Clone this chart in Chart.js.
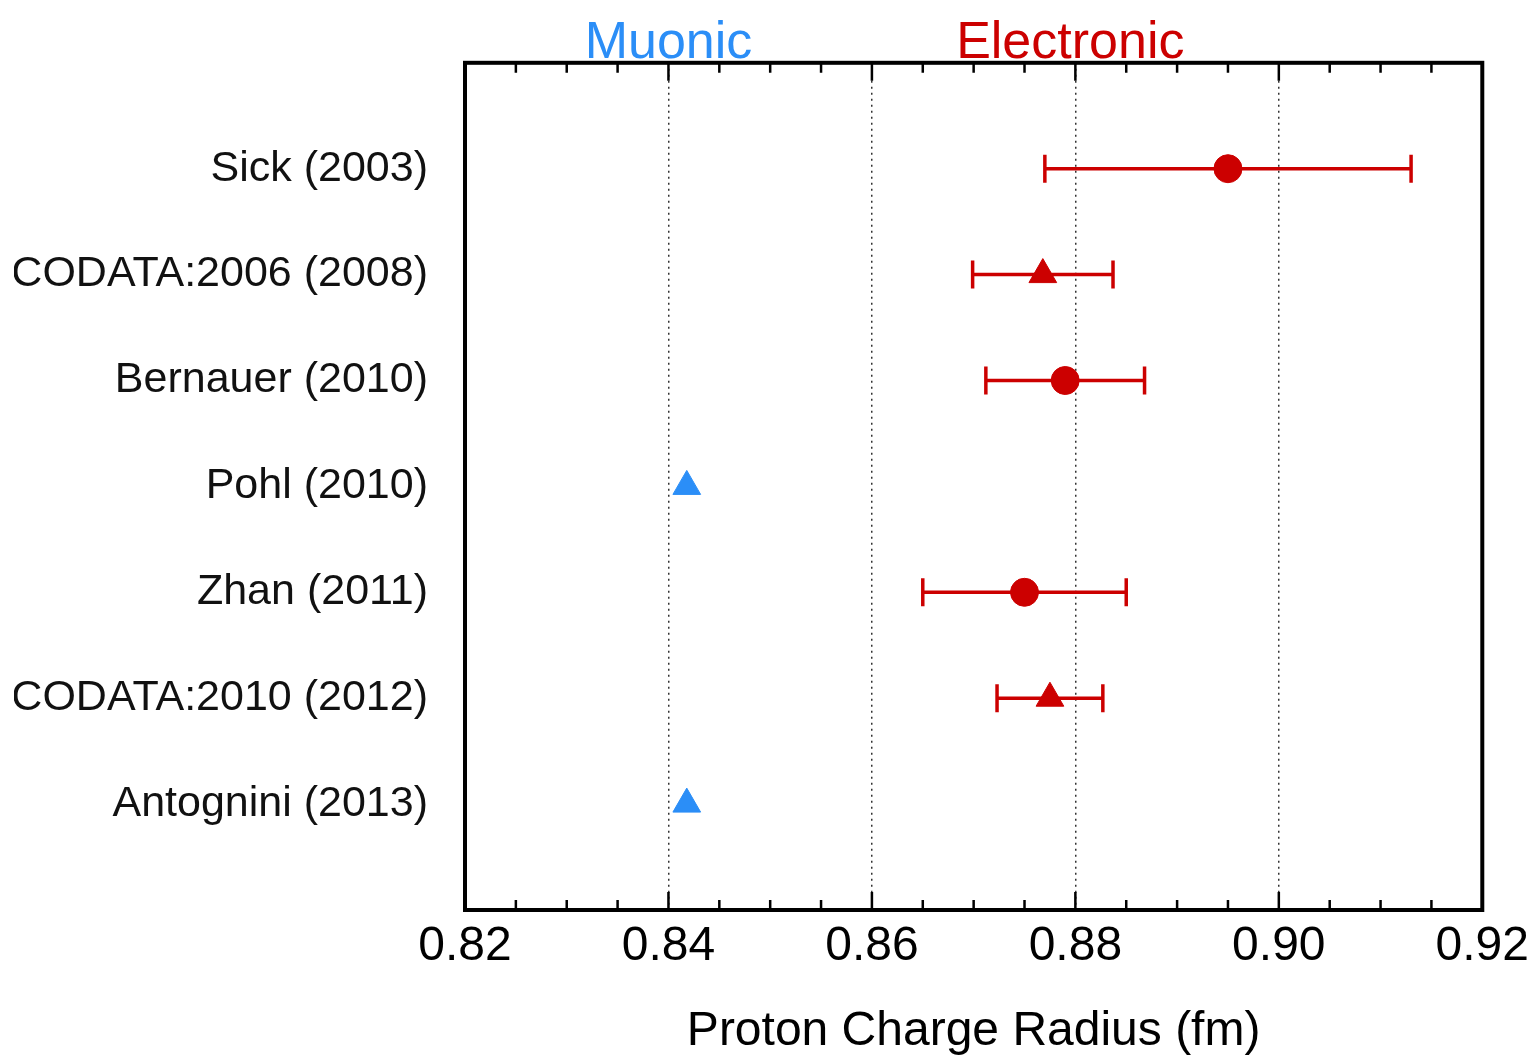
<!DOCTYPE html>
<html>
<head>
<meta charset="utf-8">
<script src="https://cdn.jsdelivr.net/npm/chart.js@4/dist/chart.umd.min.js"></script>
<style>
  html, body { margin: 0; padding: 0; background: #fff; }
  #wrap { width: 1537px; height: 1056px; }
</style>
</head>
<body>
<div id="wrap"><canvas id="chart" width="1537" height="1056"></canvas></div>
<script>
// measurements, top to bottom
const labels = ["Sick (2003)", "CODATA:2006 (2008)", "Bernauer (2010)", "Pohl (2010)",
                "Zhan (2011)", "CODATA:2010 (2012)", "Antognini (2013)"];
const radius = [0.895, 0.8768, 0.879, 0.8418, 0.875, 0.8775, 0.8418];
const errors = [0.018, 0.0069, 0.0078, 0, 0.010, 0.0052, 0];
const kind   = ["e", "e", "e", "m", "e", "e", "m"];         // e = electronic, m = muonic
const shape  = ["circle", "triangle", "circle", "triangle", "circle", "triangle", "triangle"];

const xTicks = [0.82, 0.84, 0.86, 0.88, 0.90, 0.92];
const groupNames = ["Muonic", "Electronic"];
const groupAt    = [0.84, 0.8795];

const RED = "#cc0000";
const BLUE = "#2b8ef7";
const FONT = "'Liberation Sans', Arial, sans-serif";

function pointsOf(k) {
    const out = [];
    radius.forEach((r, i) => { if (kind[i] === k) out.push({ x: r, y: i + 1, s: shape[i] }); });
    return out;
}

const electronic = pointsOf("e");
const muonic = pointsOf("m");

const datasets = [
    {
        type: "scatter",
        label: "Electronic",
        data: electronic,
        backgroundColor: RED,
        borderColor: RED,
        pointStyle: electronic.map(p => p.s),
        pointRadius: electronic.map(p => p.s === "circle" ? 14 : 16),
        order: 0
    },
    {
        type: "scatter",
        label: "Muonic",
        data: muonic,
        backgroundColor: BLUE,
        borderColor: BLUE,
        pointStyle: muonic.map(p => p.s),
        pointRadius: 16,
        order: 0
    }
];

// one small line dataset per error bar, capped with rotated line points
radius.forEach((r, i) => {
    if (!errors[i]) return;
    datasets.push({
        type: "line",
        data: [{ x: r - errors[i], y: i + 1 }, { x: r + errors[i], y: i + 1 }],
        borderColor: RED,
        borderWidth: 3.5,
        pointStyle: "line",
        pointRotation: 90,
        pointRadius: 14,
        pointBorderWidth: 3.5,
        pointBorderColor: RED,
        order: 1
    });
});

const frame = {
    id: "frame",
    afterDatasetsDraw(chart) {
        const { ctx, chartArea: a, scales } = chart;
        const x = scales.x;
        ctx.save();
        // inward ticks top and bottom
        ctx.strokeStyle = "#000";
        ctx.lineWidth = 2.5;
        for (let k = 0; k <= 20; k++) {
            const px = x.getPixelForValue(x.min + k * 0.005);
            const len = k % 4 === 0 ? 18 : 10;
            ctx.beginPath();
            ctx.moveTo(px, a.top); ctx.lineTo(px, a.top + len);
            ctx.moveTo(px, a.bottom); ctx.lineTo(px, a.bottom - len);
            ctx.stroke();
        }
        ctx.lineWidth = 4;
        ctx.strokeRect(a.left, a.top, a.right - a.left, a.bottom - a.top);

        // group headings above the frame
        ctx.font = "52px " + FONT;
        ctx.textAlign = "center";
        ctx.textBaseline = "alphabetic";
        groupNames.forEach((name, i) => {
            ctx.fillStyle = i === 0 ? BLUE : RED;
            ctx.fillText(name, x.getPixelForValue(groupAt[i]), a.top - 5);
        });
        ctx.restore();
    }
};

new Chart(document.getElementById("chart"), {
    data: { datasets },
    options: {
        responsive: false,
        animation: false,
        layout: { padding: { left: 14, right: 54, top: 62, bottom: 0 } },
        plugins: { legend: { display: false }, tooltip: { enabled: false } },
        scales: {
            x: {
                type: "linear",
                min: 0.82,
                max: 0.92,
                afterBuildTicks: s => { s.ticks = xTicks.map(v => ({ value: v })); },
                afterFit: s => { s.height = 146; },
                ticks: {
                    color: "#000",
                    padding: 8,
                    font: { family: FONT, size: 48 },
                    callback: v => v.toFixed(2)
                },
                grid: {
                    drawTicks: false,
                    color: c => (c.tick && (c.tick.value <= 0.8201 || c.tick.value >= 0.9199)) ? "rgba(0,0,0,0)" : "#333",
                    lineWidth: 1.5
                },
                border: { display: false, dash: [2, 4] },
                title: {
                    display: true,
                    text: "Proton Charge Radius (fm)",
                    color: "#000",
                    padding: { top: 0, bottom: 0 },
                    font: { family: FONT, size: 48, lineHeight: 1.0 }
                }
            },
            y: {
                type: "linear",
                min: 0,
                max: 8,
                reverse: true,
                afterFit: s => { s.width = 451; },
                ticks: {
                    stepSize: 1,
                    color: "#111",
                    padding: 37,
                    font: { family: FONT, size: 43 },
                    callback: v => labels[v - 1] || ""
                },
                grid: { display: false, drawTicks: false },
                border: { display: false }
            }
        }
    },
    plugins: [frame]
});
</script>
</body>
</html>
